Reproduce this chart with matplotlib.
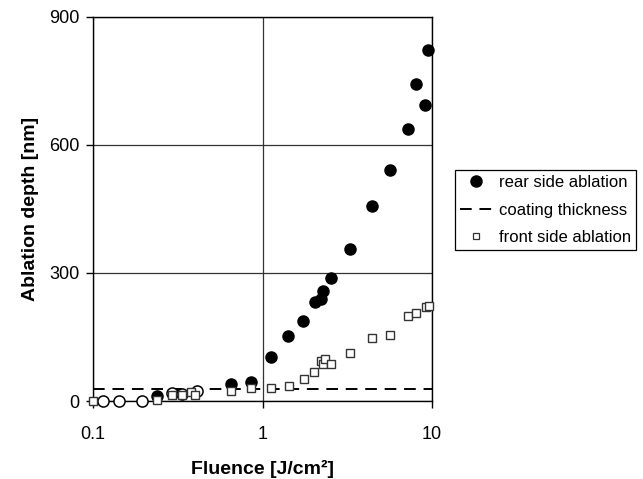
import matplotlib
matplotlib.use("Agg")
import matplotlib.pyplot as plt
from matplotlib.lines import Line2D

plt.rcParams['font.family'] = ['Liberation Sans', 'DejaVu Sans']

# rear side ablation (filled circles)
rear_x = [0.238, 0.653, 0.857, 1.12, 1.42, 1.74, 2.03, 2.22, 2.29, 2.52, 3.30, 4.42, 5.64, 7.24, 8.07, 9.12, 9.45]
rear_y = [12, 40, 44, 104, 152, 187, 233, 240, 258, 289, 356, 457, 541, 637, 743, 694, 822]
# rear side points shown as open circles (no / low ablation)
rear_open_x = [0.115, 0.143, 0.195, 0.293, 0.337, 0.409]
rear_open_y = [0, 0, 0, 18, 16, 23]
# front side ablation (open squares)
front_x = [0.1, 0.238, 0.293, 0.337, 0.38, 0.40, 0.653, 0.857, 1.12, 1.43, 1.75, 2.02, 2.20, 2.27, 2.34, 2.52,
           3.29, 4.42, 5.64, 7.24, 8.07, 9.16, 9.66]
front_y = [0, 3, 15, 14, 20, 15, 23, 31, 30, 34, 51, 69, 93, 86, 98, 86, 113, 148, 155, 200, 207, 221, 223]
coating_thickness = 28
x_range = [0.1, 10]
y_ticks = [0, 300, 600, 900]
x_ticks = [0.1, 1, 10]
x_tick_labels = ['0.1', '1', '10']

W, H = 643, 479
fig = plt.figure(figsize=(W / 100, H / 100), dpi=100)
ax = fig.add_axes([93 / W, 1 - 401 / H, (432 - 93) / W, (401 - 17) / H])

ax.set_xscale('log')
ax.set_xlim(x_range)
ax.set_ylim(0, 900)

ms_c = 8.0
ms_s = 5.8
ax.plot(x_range, [coating_thickness] * 2, color='black', linestyle=(0, (6, 4)), linewidth=1.4, zorder=2)
ax.plot(rear_open_x, rear_open_y, 'o', markersize=ms_c, markerfacecolor='white',
        markeredgecolor='black', markeredgewidth=1.1, linestyle='none', zorder=3, clip_on=False)
ax.plot(rear_x, rear_y, 'o', markersize=ms_c, color='black', linestyle='none', zorder=3, clip_on=False)
ax.plot(front_x, front_y, 's', markersize=ms_s, markerfacecolor='white',
        markeredgecolor='#333333', markeredgewidth=1.0, linestyle='none', zorder=4, clip_on=False)

ax.set_yticks(y_ticks)
ax.set_xticks(x_ticks)
ax.set_xticklabels(x_tick_labels)
ax.minorticks_off()
ax.tick_params(axis='both', direction='out', length=5, width=1, labelsize=13, colors='black')
ax.tick_params(axis='x', pad=13)
ax.tick_params(axis='y', pad=5)

ax.grid(True, which='major', color='#333333', linewidth=0.9)
ax.set_axisbelow(True)
for s in ax.spines.values():
    s.set_color('black')
    s.set_linewidth(1.0)

ax.set_xlabel('Fluence [J/cm²]', fontsize=14, fontweight='bold', labelpad=12)
ax.set_ylabel('Ablation depth [nm]', fontsize=14, fontweight='bold', labelpad=7)

handles = [
    Line2D([], [], marker='o', color='black', linestyle='none', markersize=ms_c),
    Line2D([], [], color='black', linestyle=(0, (6, 4)), linewidth=1.4),
    Line2D([], [], marker='s', markerfacecolor='white', markeredgecolor='#333333',
           linestyle='none', markersize=ms_s * 0.85, markeredgewidth=0.9),
]
leg = fig.legend(handles, ['rear side ablation', 'coating thickness', 'front side ablation'],
                 loc='upper left', bbox_to_anchor=(455 / W, 1 - 170 / H), bbox_transform=fig.transFigure,
                 borderaxespad=0, fancybox=False, edgecolor='black', framealpha=1, fontsize=12,
                 handlelength=1.9, handletextpad=0.45, labelspacing=0.75, borderpad=0.3)
leg.get_frame().set_linewidth(0.9)

fig.savefig('out.png', dpi=100)
